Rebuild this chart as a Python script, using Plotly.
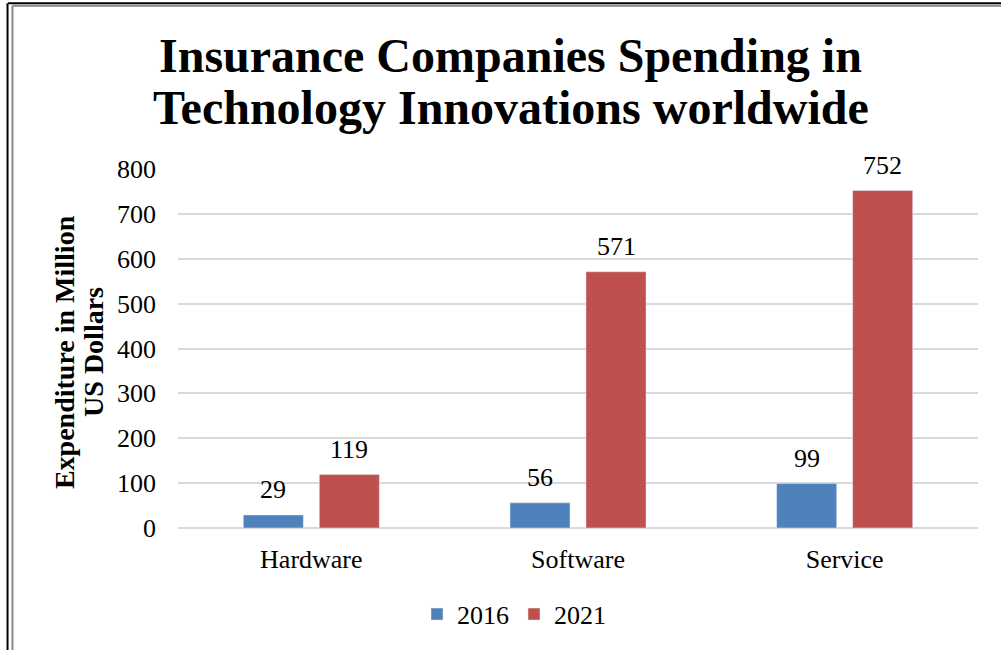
import plotly.graph_objects as go

categories = ["Hardware", "Software", "Service"]
values_2016 = [29, 56, 99]
values_2021 = [119, 571, 752]
series_names = ["2016", "2021"]
title_lines = ["Insurance Companies Spending in", "Technology Innovations worldwide"]
y_title_lines = ["Expenditure in Million", "US Dollars"]

FONT = "Liberation Serif"
colors = ["#4F81BD", "#C0504D"]

fig = go.Figure()
for name, vals, col in zip(series_names, [values_2016, values_2021], colors):
    fig.add_trace(go.Bar(
        x=categories, y=vals, name=name, marker_color=col,
        cliponaxis=False,
    ))

# data labels
for vals, xs in zip([values_2016, values_2021], [-38, 38]):
    for c, v in zip(categories, vals):
        fig.add_annotation(x=c, y=v, text=str(v), showarrow=False, xshift=xs, yshift=9,
                           yanchor="bottom", xanchor="center",
                           font=dict(family=FONT, size=26, color="#000"))

fig.update_layout(
    width=1001, height=650,
    paper_bgcolor="white", plot_bgcolor="white",
    margin=dict(l=178, r=23, t=169, b=122, autoexpand=False),
    barmode="group", bargap=0.43, bargroupgap=0.21,
    font=dict(family=FONT, size=26, color="#000"),
    showlegend=True,
    legend=dict(orientation="h", x=0.42, xanchor="center", y=-0.24, yanchor="middle",
                font=dict(family=FONT, size=26), itemwidth=30, tracegroupgap=0),
    xaxis=dict(showgrid=False, showline=False, ticks="", tickfont=dict(family=FONT, size=26),
               ticklabelstandoff=13),
    yaxis=dict(range=[0, 800], dtick=100, showgrid=True, gridcolor="#D9D9D9", gridwidth=1.5,
               zeroline=True, zerolinecolor="#D9D9D9", zerolinewidth=1.5,
               ticks="", tickfont=dict(family=FONT, size=26), ticklabelstandoff=21),
)

# title lines
for line, yv in zip(title_lines, [1.3175, 1.170]):
    fig.add_annotation(text="<b>" + line + "</b>", xref="paper", yref="paper", x=0.416, y=yv,
                       xanchor="center", yanchor="middle", showarrow=False,
                       font=dict(family=FONT, size=48, color="#000"))

# y-axis title lines
for line, xv in zip(y_title_lines, [-0.1425, -0.1065]):
    fig.add_annotation(text="<b>" + line + "</b>", textangle=-90, xref="paper", yref="paper",
                       x=xv, y=0.49, xanchor="center", yanchor="middle", showarrow=False,
                       font=dict(family=FONT, size=28, color="#000"))

# frame lines
fig.add_shape(type="line", xref="paper", yref="paper", x0=-0.2125, x1=1.03, y0=1.462, y1=1.462,
              line=dict(color="black", width=2))
fig.add_shape(type="line", xref="paper", yref="paper", x0=-0.2131, x1=-0.2131, y0=1.462, y1=-0.35,
              line=dict(color="black", width=2))
fig.add_shape(type="line", xref="paper", yref="paper", x0=-0.207, x1=1.03, y0=1.455, y1=1.455,
              line=dict(color="#888888", width=2))
fig.add_shape(type="line", xref="paper", yref="paper", x0=-0.2069, x1=-0.2069, y0=1.455, y1=-0.35,
              line=dict(color="#888888", width=2))

fig.write_html("out.html", config={"displayModeBar": False},
               post_script="document.body.style.margin='0px';")
